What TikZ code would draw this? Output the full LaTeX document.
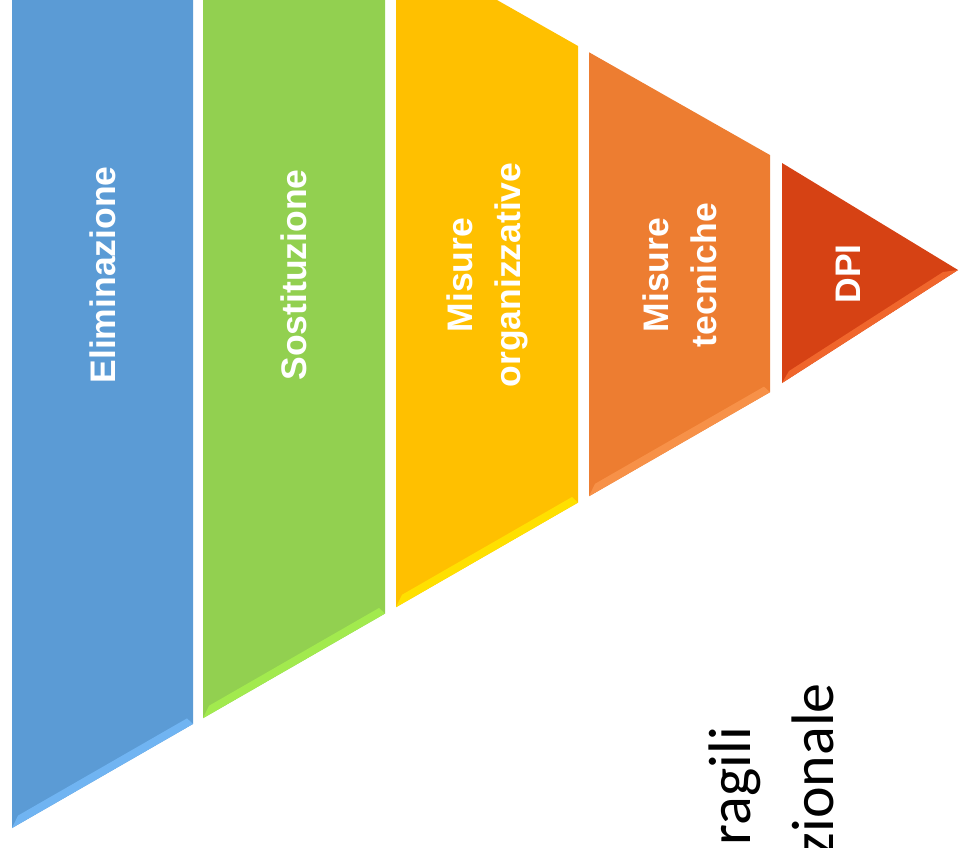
\documentclass[tikz,border=0pt]{standalone}
\usepackage{fontspec}
\setmainfont{Liberation Sans}
\newfontfamily\carlito{Carlito}
\definecolor{elimcol}{RGB}{91,155,213}
\definecolor{elimlite}{RGB}{112,180,242}
\definecolor{sostcol}{RGB}{146,208,80}
\definecolor{sostlite}{RGB}{162,234,78}
\definecolor{orgcol}{RGB}{255,192,0}
\definecolor{orglite}{RGB}{255,224,0}
\definecolor{teccol}{RGB}{237,125,49}
\definecolor{teclite}{RGB}{247,145,72}
\definecolor{dpicol}{RGB}{214,66,20}
\definecolor{dpilite}{RGB}{240,102,44}
\begin{document}
\begin{tikzpicture}
        [
           x=1pt, y=-1pt,
           every node/.style={inner sep=0pt},
           bandtext/.style={text=white, rotate=90, align=center,
                            font=\bfseries\fontsize{35.5}{48}\selectfont},
           sidetext/.style={rotate=90, anchor=base east,
                            font=\carlito\fontsize{60}{72}\selectfont}
        ]
        \useasboundingbox (0,0) rectangle (960,847);
        \clip (0,0) rectangle (960,847);
        \fill[white] (0,0) rectangle (960,847);
        % the four bands of the pyramid
        \foreach \xa/\xb/\col/\name/\txt in {12/193/elim/elim/Eliminazione,
                                             203/385/sost/sost/Sostituzione,
                                             396/578/org/org/{Misure\\organizzative},
                                             589/770/tec/tec/{Misure\\tecniche}}
        {
            \fill[\col col] (\xa,{0.568*(\xa-497)}) -- (\xb,{0.568*(\xb-497)})
                -- (\xb,{828-0.575*(\xb-12)}) -- (\xa,{828-0.575*(\xa-12)}) -- cycle;
            \fill[\col lite] (\xa,{828-0.575*(\xa-12)}) -- (\xb,{828-0.575*(\xb-12)})
                -- ({\xb-6},{828-0.575*(\xb-18)-9}) -- ({\xa+6},{828-0.575*(\xa-6)-9}) -- cycle;
            \node[bandtext] (\name) at ({(\xa+\xb)/2},275) {\txt};
        }
        % the tip
        \fill[dpicol] (782,163) -- (958,270) -- (782,383) -- cycle;
        \fill[dpilite] (782,383) -- (958,270) -- (943,272) -- (789,371) -- cycle;
        \node[bandtext] (dpi) at (848,274) {DPI};
        % cut off text at the bottom right
        \node[sidetext] (fragili) at (750,727) {ragili};
        \node[sidetext] (razionale) at (833,683) {zionale};
\end{tikzpicture}
\end{document}
